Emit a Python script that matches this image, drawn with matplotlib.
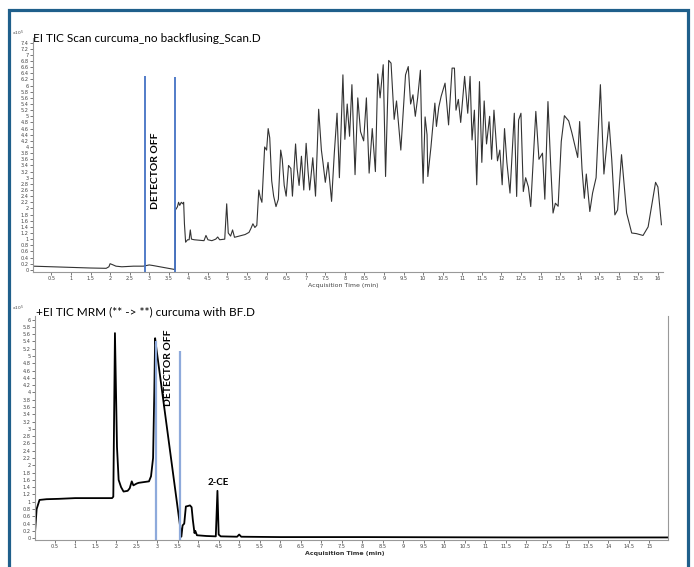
import numpy as np
import matplotlib
matplotlib.use('Agg')
import matplotlib.pyplot as plt
from matplotlib.patches import Rectangle

# top trace: scan TIC (time in min, counts x10^5)
scan_time = [0.03, 0.5, 1.0, 1.5, 1.9, 1.97, 2.0, 2.06, 2.15, 2.3, 2.6, 2.85, 3.0, 3.1, 3.4, 3.66,
             3.67, 3.72, 3.75, 3.78, 3.82, 3.86, 3.88, 3.9, 3.93, 3.98, 4.02, 4.05, 4.08, 4.15, 4.3,
             4.4, 4.45, 4.5, 4.6, 4.7, 4.75, 4.8, 4.93, 4.98, 5.02, 5.08, 5.13, 5.18, 5.3, 5.45, 5.55,
             5.6, 5.65, 5.7, 5.75, 5.8, 5.84, 5.88, 5.95, 6.0, 6.04, 6.08, 6.13, 6.18, 6.24, 6.3, 6.36,
             6.4, 6.45, 6.5, 6.56, 6.62, 6.66, 6.74, 6.78, 6.83, 6.89, 6.95, 7.01, 7.06, 7.1, 7.18,
             7.25, 7.33, 7.4, 7.44, 7.5, 7.57, 7.66, 7.73, 7.8, 7.86, 7.95, 8.0, 8.06, 8.12, 8.18,
             8.26, 8.33, 8.4, 8.48, 8.55, 8.62, 8.7, 8.78, 8.84, 8.9, 8.98, 9.04, 9.12, 9.18, 9.26,
             9.32, 9.43, 9.55, 9.62, 9.68, 9.74, 9.8, 9.86, 9.93, 9.97, 10.0, 10.05, 10.1, 10.12,
             10.2, 10.3, 10.34, 10.4, 10.46, 10.56, 10.65, 10.74, 10.8, 10.84, 10.9, 10.96, 11.06,
             11.14, 11.2, 11.25, 11.31, 11.37, 11.44, 11.5, 11.56, 11.62, 11.7, 11.75, 11.81, 11.9,
             11.96, 12.02, 12.08, 12.14, 12.22, 12.33, 12.39, 12.44, 12.5, 12.56, 12.62, 12.69,
             12.75, 12.88, 12.96, 13.05, 13.11, 13.19, 13.26, 13.32, 13.38, 13.45, 13.53, 13.61,
             13.72, 13.8, 13.95, 14.0, 14.06, 14.12, 14.17, 14.26, 14.33, 14.42, 14.53, 14.62,
             14.75, 14.82, 14.9, 14.97, 15.07, 15.2, 15.33, 15.45, 15.62, 15.75, 15.94, 16.0, 16.09]
scan_counts = [0.12, 0.1, 0.08, 0.06, 0.05, 0.1, 0.2, 0.17, 0.12, 0.1, 0.12, 0.12, 0.16, 0.14, 0.07, 0.01,
               1.95, 2.05, 2.2, 2.1, 2.2, 2.15, 2.2, 1.5, 0.9, 0.98, 0.98, 1.3, 1.0, 0.98, 0.96,
               0.95, 1.12, 0.98, 0.95, 1.0, 1.07, 0.98, 1.0, 2.15, 1.2, 1.1, 1.3, 1.06, 1.1, 1.15, 1.22,
               1.35, 1.5, 1.38, 1.45, 2.6, 2.35, 2.2, 4.0, 3.9, 4.6, 4.3, 2.9, 2.4, 2.06, 2.3, 3.9,
               3.6, 2.75, 2.4, 3.4, 3.3, 2.4, 4.1, 3.3, 2.75, 3.7, 2.6, 4.12, 3.2, 2.6, 3.65,
               2.4, 5.23, 3.9, 3.5, 2.85, 3.5, 2.23, 3.8, 5.1, 3.0, 6.35, 4.25, 5.4, 4.35, 6.03,
               3.1, 5.6, 4.5, 4.2, 5.6, 3.15, 4.6, 3.2, 6.38, 5.6, 6.68, 3.04, 6.82, 6.73, 4.9,
               5.5, 3.9, 6.35, 6.62, 5.4, 5.7, 5.0, 5.6, 6.5, 4.0, 2.82, 4.98, 4.4, 3.04,
               4.0, 5.43, 4.67, 5.3, 5.65, 6.08, 4.72, 6.57, 6.57, 5.2, 5.55, 4.8, 6.3,
               5.1, 6.3, 4.23, 5.2, 2.77, 6.13, 3.5, 5.5, 4.1, 5.0, 3.6, 5.2, 3.55,
               3.9, 2.77, 4.6, 3.5, 2.5, 5.1, 2.39, 4.88, 5.1, 2.55, 3.0, 2.7,
               2.06, 5.16, 3.6, 3.8, 2.3, 5.48, 3.4, 1.85, 2.17, 2.07, 4.18, 5.02,
               4.85, 4.47, 3.66, 4.83, 3.29, 2.33, 3.12, 1.9, 2.5, 3.0, 6.03, 3.12,
               4.82, 3.6, 1.79, 1.95, 3.75, 1.85, 1.2, 1.18, 1.12, 1.4, 2.85, 2.7, 1.47]

# bottom trace: MRM TIC
mrm_time = [0.02, 0.06, 0.13, 0.3, 0.6, 1.0, 1.5, 1.9, 1.93, 1.97, 2.02, 2.06, 2.12, 2.18, 2.28,
            2.33, 2.38, 2.42, 2.5, 2.55, 2.8, 2.85, 2.9, 2.93, 2.95, 2.97, 3.56, 3.59, 3.62, 3.66,
            3.7, 3.74, 3.8, 3.84, 3.87, 3.91, 3.93, 3.97, 4.2, 4.43, 4.47, 4.5, 4.55, 4.95, 5.0,
            5.05, 6.0, 8.0, 10.0, 12.0, 15.45]
mrm_counts = [0.15, 0.8, 1.05, 1.07, 1.08, 1.1, 1.1, 1.1, 1.14, 5.63, 2.5, 1.6, 1.4, 1.28, 1.3,
              1.37, 1.56, 1.45, 1.5, 1.52, 1.56, 1.7, 2.2, 4.0, 5.49, 5.3, 0.32, 0.04, 0.35, 0.4,
              0.87, 0.88, 0.9, 0.85, 0.5, 0.14, 0.2, 0.08, 0.06, 0.05, 1.3, 0.1, 0.05, 0.04, 0.1,
              0.04, 0.03, 0.03, 0.025, 0.02, 0.02]

# detector off markers (time, line top)
scan_off = [2.89, 3.67]
scan_off_top = [6.3, 6.28]
mrm_off = [2.98, 3.56]
mrm_off_top = [5.4, 5.15]

W, H = 694, 567
fig = plt.figure(figsize=(W / 100, H / 100), dpi=100)

def style_axis(ax, xmax, ymax, ytop):
    ax.set_xticks(np.arange(0.5, xmax + 0.01, 0.5))
    ax.set_xticklabels(['%g' % v for v in np.arange(0.5, xmax + 0.01, 0.5)])
    ax.set_yticks(np.arange(0, ymax + 0.01, 0.2))
    ax.set_yticklabels(['%g' % round(v, 1) for v in np.arange(0, ymax + 0.01, 0.2)])
    ax.tick_params(labelsize=3.6, length=2, width=0.5, pad=1, colors='#444444')
    ax.spines['top'].set_visible(False)
    for s in ['left', 'bottom', 'right']:
        ax.spines[s].set_color('#999999')
        ax.spines[s].set_linewidth(0.8)

# top panel
ax1 = fig.add_axes([33 / W, 1 - 272 / H, (663 - 33) / W, (272 - 38) / H])
ax1.plot(scan_time, scan_counts, color='#333333', lw=0.8)
ax1.vlines(scan_off, -0.07, scan_off_top, color='#4472c4', lw=1.3)
ax1.set_xlim(0.03, 16.13)
ax1.set_ylim(-0.07, 7.55)
style_axis(ax1, 16, 7.4, 7.55)
ax1.spines['right'].set_visible(False)
ax1.text(3.15, 3.22, 'DETECTOR OFF', rotation=90, ha='center', va='center',
         fontsize=7.5, fontweight='bold', family='Lato')

# bottom panel
ax2 = fig.add_axes([35 / W, 1 - 540 / H, (668 - 35) / W, (540 - 316) / H])
ax2.plot(mrm_time, mrm_counts, color='black', lw=1.3)
ax2.vlines(mrm_off, -0.05, mrm_off_top, color='#8eaadb', lw=1.6)
ax2.set_xlim(0.02, 15.46)
ax2.set_ylim(-0.05, 6.1)
style_axis(ax2, 15, 6, 6.1)
ax2.text(3.27, 4.68, 'DETECTOR OFF', rotation=90, ha='center', va='center',
         fontsize=7.5, fontweight='bold', family='Lato')
ax2.text(4.48, 1.4, '2-CE', ha='center', va='bottom', fontsize=7, fontweight='bold', family='Lato')

# titles, labels
fig.text(33 / W, 1 - 38 / H, 'EI TIC Scan curcuma_no backflusing_Scan.D', fontsize=8.5,
         family='Lato', ha='left', va='center')
fig.text(36 / W, 1 - 311.5 / H, '+EI TIC MRM (** -> **) curcuma with BF.D', fontsize=8.5,
         family='Lato', ha='left', va='center')
fig.text(18 / W, 1 - 33 / H, r'x10$^{5}$', fontsize=3.2, ha='center', va='center', color='#444444')
fig.text(18 / W, 1 - 308 / H, r'x10$^{5}$', fontsize=3.2, ha='center', va='center', color='#444444')
fig.text(343 / W, 1 - 285 / H, 'Acquisition Time (min)', fontsize=4.5, ha='center', va='center',
         color='#444444')
fig.text(345 / W, 1 - 553 / H, 'Acquisition Time (min)', fontsize=4.5, ha='center', va='center',
         color='#333333', fontweight='bold')

# outer frame
fig.add_artist(Rectangle((8.7 / W, -0.05), (688 - 8.7) / W, 1.05 - 10 / H, transform=fig.transFigure,
                         fill=False, ec='#1f5f8b', lw=2.3))

fig.savefig('out.png', dpi=100)
